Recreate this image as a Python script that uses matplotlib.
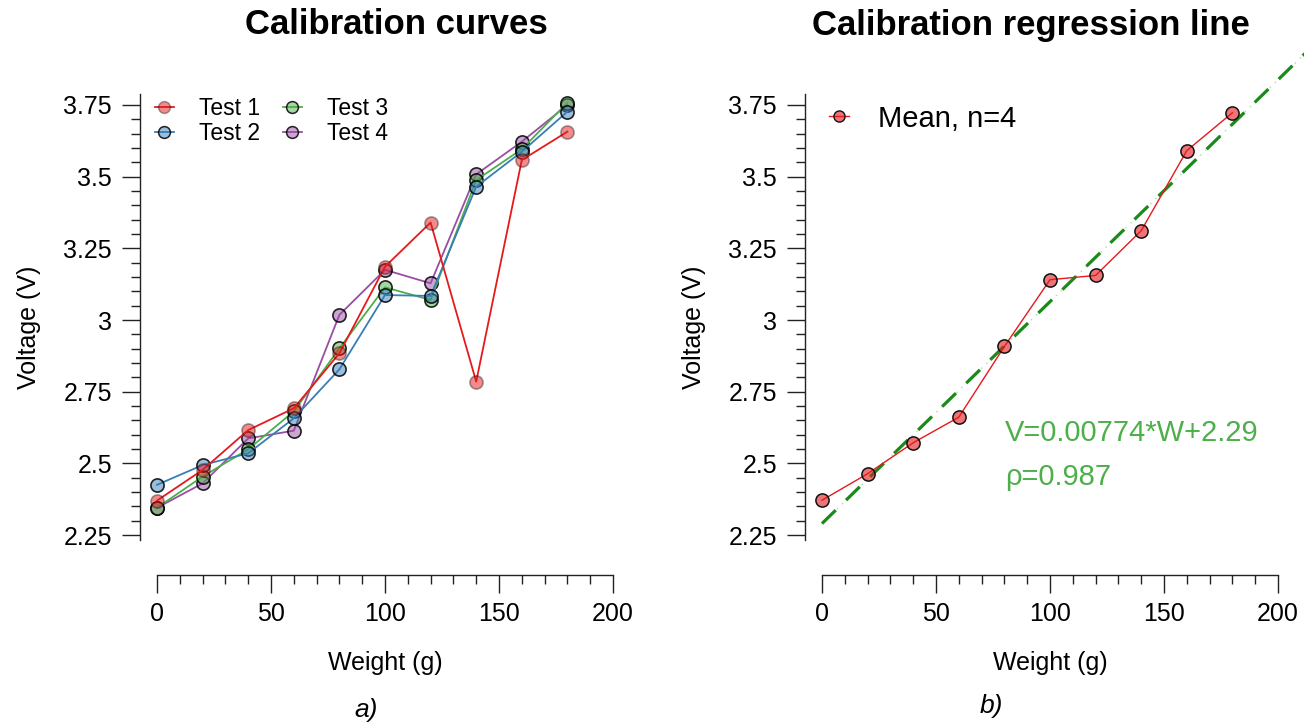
"""Calibration curves for a load cell: four raw tests and the mean with its fit."""

import matplotlib.pyplot as plt
import numpy as np
from matplotlib.lines import Line2D

plt.rcParams["font.family"] = ["Liberation Sans", "DejaVu Sans"]

# --- data --------------------------------------------------------------
weight = [0, 20, 40, 60, 80, 100, 120, 140, 160, 180]
test_1 = [2.370, 2.477, 2.616, 2.692, 2.884, 3.186, 3.340, 2.785, 3.558, 3.657]
test_2 = [2.425, 2.494, 2.535, 2.657, 2.828, 3.087, 3.084, 3.465, 3.587, 3.727]
test_3 = [2.345, 2.454, 2.549, 2.681, 2.901, 3.114, 3.070, 3.488, 3.596, 3.758]
test_4 = [2.345, 2.430, 2.587, 2.614, 3.018, 3.175, 3.128, 3.508, 3.622, 3.750]
test_names = ["Test 1", "Test 2", "Test 3", "Test 4"]
test_colors = ["#E41A1C", "#377EB8", "#4DAF4A", "#984EA3"]
mean_label = "Mean, n=4"
fit_slope = 0.00774
fit_intercept = 2.29
fit_rho = 0.987
fit_w_end = 212

y_ticks = [2.25, 2.5, 2.75, 3, 3.25, 3.5, 3.75]
y_tick_labels = ["2.25", "2.5", "2.75", "3", "3.25", "3.5", "3.75"]
x_ticks = [0, 50, 100, 150, 200]

FIG_W, FIG_H = 1304, 723
PX_PER_W = 2.28
PX_PER_V = 286.67
XLIM = (-7.5, 208)
YLIM = (2.11, 3.84)


def axes_rect(x_zero_px):
    left = x_zero_px + XLIM[0] * PX_PER_W
    right = x_zero_px + XLIM[1] * PX_PER_W
    top = 105 - (YLIM[1] - 3.75) * PX_PER_V
    bottom = 105 + (3.75 - YLIM[0]) * PX_PER_V
    return [left / FIG_W, 1 - bottom / FIG_H, (right - left) / FIG_W, (bottom - top) / FIG_H]


def style_axes(ax):
    ax.set_xlim(*XLIM)
    ax.set_ylim(*YLIM)
    for side in ("top", "right"):
        ax.spines[side].set_visible(False)
    ax.spines["left"].set_bounds(2.232, 3.79)
    ax.spines["bottom"].set_bounds(0, 200)
    for side in ("left", "bottom"):
        ax.spines[side].set_linewidth(1.0)
        ax.spines[side].set_color("#222222")
    ax.set_xticks(x_ticks)
    ax.set_xticks(np.arange(0, 201, 10), minor=True)
    ax.set_yticks(y_ticks)
    ax.set_yticklabels(y_tick_labels)
    ax.set_yticks(np.arange(2.25, 3.80, 0.05), minor=True)
    ax.tick_params(which="major", length=13, width=1.0, labelsize=18, color="#222222")
    ax.tick_params(which="minor", length=6.8, width=1.0, color="#222222")
    ax.tick_params(axis="x", which="major", pad=6)
    ax.tick_params(axis="y", which="major", pad=7)
    ax.set_xlabel("Weight (g)", fontsize=18, labelpad=18.5)
    ax.set_ylabel("Voltage (V)", fontsize=18, labelpad=16)


fig = plt.figure(figsize=(FIG_W / 100, FIG_H / 100), dpi=100)

# --- a) raw calibration curves ------------------------------------------
ax1 = fig.add_axes(axes_rect(157))
tests = [test_1, test_2, test_3, test_4]
handles = []
for i in (3, 2, 1, 0):
    edge = (0, 0, 0, 0.35) if i == 0 else (0, 0, 0, 0.85)
    ax1.plot(weight, tests[i], color=test_colors[i], lw=1.3, zorder=2 + (3 - i))
    ax1.plot(weight, tests[i], ls="none", marker="o", markersize=9.5,
             markerfacecolor=test_colors[i] + "80", markeredgecolor=edge,
             markeredgewidth=1.2, zorder=2 + (3 - i))
for i in range(4):
    edge = (0, 0, 0, 0.35) if i == 0 else (0, 0, 0, 0.85)
    handles.append(Line2D([], [], color=test_colors[i], lw=1.3, marker="o",
                          markersize=8.5, markerfacecolor=test_colors[i] + "80",
                          markeredgecolor=edge, markeredgewidth=1.1))
style_axes(ax1)
ax1.legend(handles, test_names, ncol=2, loc="upper left", frameon=False,
           fontsize=16.5, handlelength=0.8, handletextpad=1.1,
           columnspacing=1.02, labelspacing=0.1, borderaxespad=0,
           bbox_to_anchor=(146 / FIG_W, 1 - 88 / FIG_H),
           bbox_transform=fig.transFigure)

# --- b) mean and regression line ------------------------------------------
ax2 = fig.add_axes(axes_rect(822))
mean_v = np.mean(np.array(tests), axis=0)
w_fit = np.array([0, fit_w_end])
v_fit = fit_slope * w_fit + fit_intercept
ax2.plot(w_fit, v_fit, color="#A8E0A0", lw=1.0, ls=(0, (1, 4)), clip_on=False, zorder=1)
ax2.plot(w_fit, v_fit, color="#1A8A1A", lw=2.3, ls=(0, (6, 4.5)), clip_on=False, zorder=2)
ax2.plot(weight, mean_v, color="#E41A1C", lw=1.0, zorder=3)
ax2.plot(weight, mean_v, ls="none", marker="o", markersize=9.5,
         markerfacecolor="#E41A1C99", markeredgecolor="#111111",
         markeredgewidth=1.1, zorder=4)
style_axes(ax2)
mean_handle = Line2D([], [], color="#E41A1C", lw=1.0, marker="o", markersize=8,
                     markerfacecolor="#E41A1C99", markeredgecolor="#111111",
                     markeredgewidth=1.0)
ax2.legend([mean_handle], [mean_label], loc="upper left", frameon=False,
           fontsize=21, handlelength=0.7, handletextpad=1.0, borderaxespad=0,
           bbox_to_anchor=(817 / FIG_W, 1 - 93 / FIG_H),
           bbox_transform=fig.transFigure)
ax2.text(80.3, 2.606, f"V={fit_slope}*W+{fit_intercept}", color="#4DAF4A",
         fontsize=21, ha="left", va="center")
ax2.text(80.3, 2.452, f"ρ={fit_rho}", color="#4DAF4A",
         fontsize=21, ha="left", va="center")

# --- titles and panel labels ----------------------------------------------
fig.text(396 / FIG_W, 1 - 25 / FIG_H, "Calibration curves", fontsize=25,
         fontweight="bold", ha="center", va="center")
fig.text(1031 / FIG_W, 1 - 25 / FIG_H, "Calibration regression line", fontsize=25,
         fontweight="bold", ha="center", va="center")
fig.text(366 / FIG_W, 1 - 710 / FIG_H, "a)", fontsize=19, style="italic",
         ha="center", va="center")
fig.text(991 / FIG_W, 1 - 706 / FIG_H, "b)", fontsize=19, style="italic",
         ha="center", va="center")

fig.savefig("out.png", dpi=100)
